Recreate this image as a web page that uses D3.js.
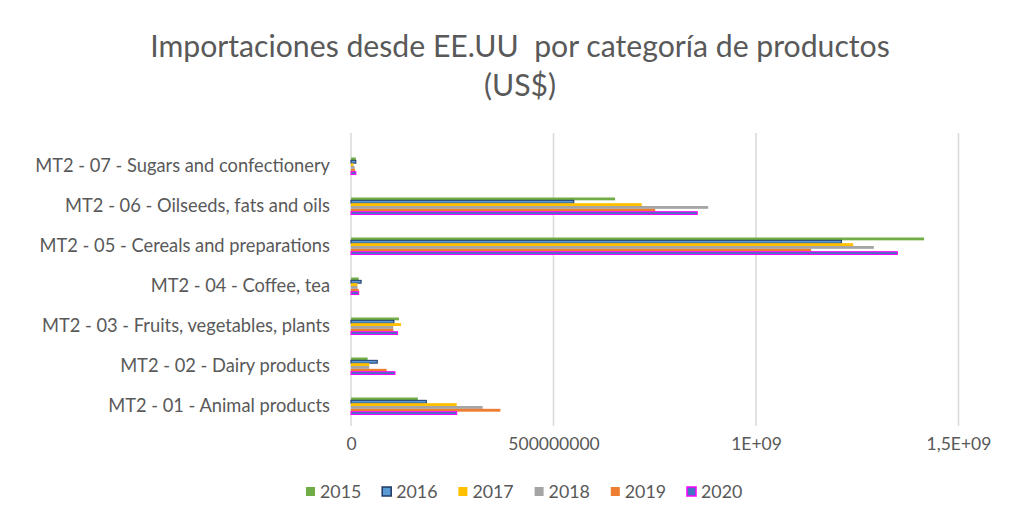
<!DOCTYPE html>
<html>
<head>
<meta charset="utf-8">
<script src="https://cdn.jsdelivr.net/npm/d3@7"></script>
<style>
  body { margin: 0; background: #fff; }
  svg text { font-family: Lato, "Open Sans", sans-serif; fill: #595959; }
</style>
</head>
<body>
<script>
// categories in data order (Excel draws the first one at the bottom)
const categories = [
  "MT2 - 01 - Animal products",
  "MT2 - 02 - Dairy products",
  "MT2 - 03 - Fruits, vegetables, plants",
  "MT2 - 04 - Coffee, tea",
  "MT2 - 05 - Cereals and preparations",
  "MT2 - 06 - Oilseeds, fats and oils",
  "MT2 - 07 - Sugars and confectionery"
];
const years = ["2015", "2016", "2017", "2018", "2019", "2020"];
const v2015 = [1.65e8, 4.1e7, 1.185e8, 1.9e7, 1.415e9, 6.52e8, 1.2e7];
const v2016 = [1.86e8, 6.5e7, 1.06e8, 2.5e7, 1.211e9, 5.50e8, 1.2e7];
const v2017 = [2.61e8, 4.5e7, 1.235e8, 1.6e7, 1.240e9, 7.18e8, 6e6];
const v2018 = [3.25e8, 4.5e7, 1.045e8, 1.6e7, 1.291e9, 8.82e8, 9e6];
const v2019 = [3.69e8, 8.8e7, 1.045e8, 1.9e7, 1.136e9, 7.51e8, 1.0e7];
const v2020 = [2.61e8, 1.086e8, 1.15e8, 1.9e7, 1.349e9, 8.55e8, 1.2e7];
const tickValues = [0, 5e8, 1e9, 1.5e9];
const tickLabels = ["0", "500000000", "1E+09", "1,5E+09"];

const series = [v2015, v2016, v2017, v2018, v2019, v2020];
const fills   = ["#70AD47", "#5B9BD5", "#FFC000", "#A5A5A5", "#ED7D31", "#4472C4"];
const strokes = ["none", "#1F3864", "none", "none", "none", "#FF00FF"];

const width = 1024, height = 519;
const svg = d3.select("body").append("svg")
    .attr("width", width)
    .attr("height", height);

// title
const title = svg.append("text")
    .attr("text-anchor", "middle")
    .style("font-size", "30.2px");
title.append("tspan").attr("x", 520).attr("y", 57)
    .text("Importaciones desde EE.UU\u00a0 por categoría de productos");
title.append("tspan").attr("x", 520).attr("y", 96).text("(US$)");

const x = d3.scaleLinear()
    .domain([0, 1.6e9])
    .range([351, 999]);

const y = d3.scaleBand()
    .domain(categories.slice().reverse())
    .range([146, 426]);

const y1 = d3.scaleBand()
    .domain(years)
    .range([y.bandwidth() / 2 - 8.5, y.bandwidth() / 2 + 8.5]);

// gridlines
svg.append("g").selectAll("line")
    .data(tickValues)
    .enter().append("line")
    .attr("x1", x).attr("x2", x)
    .attr("y1", 133).attr("y2", 426)
    .attr("stroke", "#D9D9D9")
    .attr("stroke-width", 1.5);

// bars
const groups = svg.append("g").selectAll("g")
    .data(categories)
    .enter().append("g")
    .attr("transform", d => "translate(0," + y(d) + ")");

groups.selectAll("rect")
    .data((d, i) => years.map((yr, j) => ({ year: yr, value: series[j][i], j: j })))
    .enter().append("rect")
    .attr("x", x(0))
    .attr("y", d => y1(d.year))
    .attr("width", d => x(d.value) - x(0))
    .attr("height", y1.bandwidth())
    .attr("fill", d => fills[d.j])
    .attr("stroke", d => strokes[d.j])
    .attr("stroke-width", 1);

// category labels
svg.append("g").selectAll("text")
    .data(categories)
    .enter().append("text")
    .attr("x", 330)
    .attr("y", d => y(d) + y.bandwidth() / 2)
    .attr("dy", ".35em")
    .attr("text-anchor", "end")
    .style("font-size", "18.3px")
    .text(d => d);

// value axis labels
const xAxis = d3.axisBottom(x)
    .tickValues(tickValues)
    .tickFormat((d, i) => tickLabels[i])
    .tickSize(0)
    .tickPadding(0);
const ax = svg.append("g")
    .attr("transform", "translate(0,438)")
    .call(xAxis);
ax.select(".domain").remove();
ax.selectAll("text")
    .style("font-size", "17.5px")
    .style("fill", "#595959")
    .style("font-family", "Lato, 'Open Sans', sans-serif");

// legend
const legendX = d3.scalePoint()
    .domain(years)
    .range([306, 687]);
const leg = svg.append("g").selectAll("g")
    .data(years)
    .enter().append("g")
    .attr("transform", d => "translate(" + legendX(d) + ",487)");
leg.append("rect")
    .attr("width", 9).attr("height", 9)
    .attr("fill", (d, i) => fills[i])
    .attr("stroke", (d, i) => strokes[i])
    .attr("stroke-width", 1.5);
leg.append("text")
    .attr("x", 14)
    .attr("y", 4.5)
    .attr("dy", ".35em")
    .style("font-size", "17.8px")
    .text(d => d);
</script>
</body>
</html>
